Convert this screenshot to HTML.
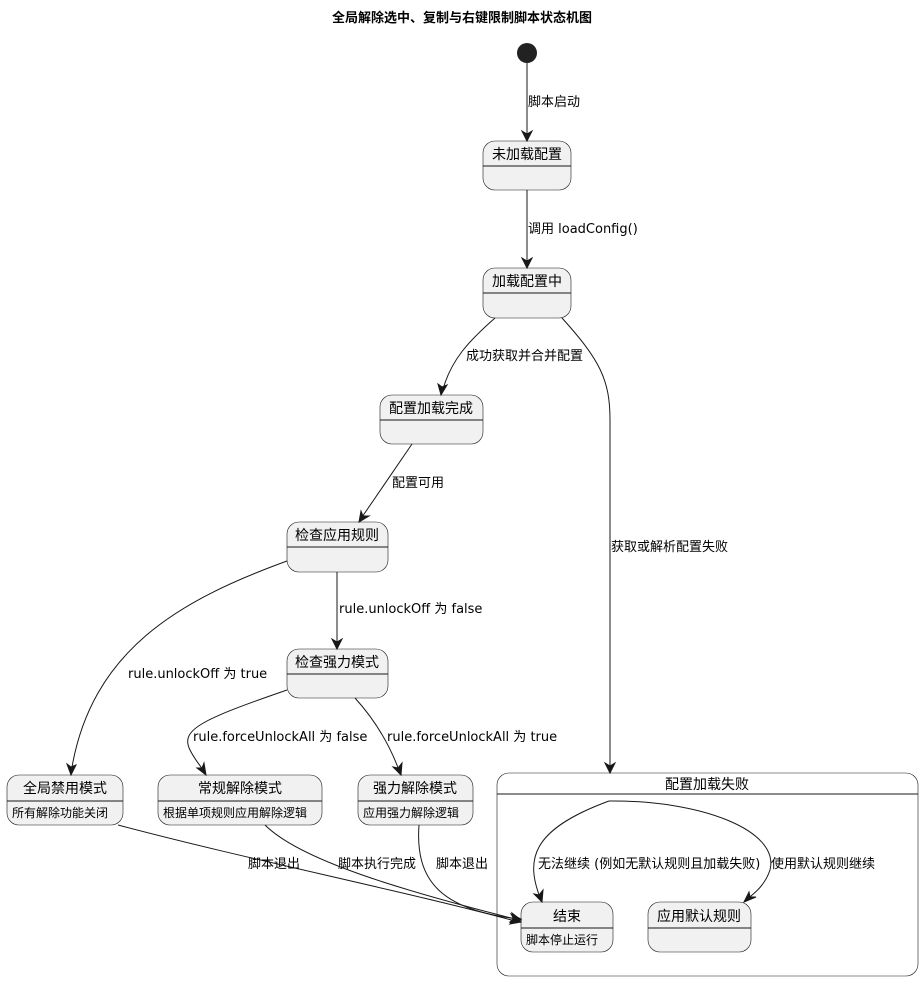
<!DOCTYPE html>
<html><head><meta charset="utf-8"><style>
body{margin:0;background:#fff}
svg{display:block}
text{font-family:"DejaVu Sans","Noto Sans CJK SC",sans-serif;fill:#000}
.s{fill:#F1F1F1;stroke:#181818;stroke-width:0.6}
.l{stroke:#181818;stroke-width:1;fill:none}
.a{fill:#181818;stroke:#181818}
</style></head><body>
<svg width="924" height="981" viewBox="0 0 924 981" xmlns="http://www.w3.org/2000/svg">
<text x="462" y="22" text-anchor="middle" font-size="13" font-weight="bold">全局解除选中、复制与右键限制脚本状态机图</text>
<circle cx="527" cy="53" r="10" fill="#222"/>

<g font-size="14" text-anchor="middle">
<rect class="s" x="483" y="141" width="88" height="49" rx="12"/><line class="l" x1="483" y1="166" x2="571" y2="166" stroke-width="0.6"/><text x="527" y="159">未加载配置</text>
<rect class="s" x="483" y="268" width="88" height="50" rx="12"/><line class="l" x1="483" y1="293" x2="571" y2="293" stroke-width="0.6"/><text x="527" y="286">加载配置中</text>
<rect class="s" x="380" y="395" width="103" height="49" rx="12"/><line class="l" x1="380" y1="420" x2="483" y2="420" stroke-width="0.6"/><text x="431" y="413">配置加载完成</text>
<rect class="s" x="287" y="522" width="101" height="50" rx="12"/><line class="l" x1="287" y1="547" x2="388" y2="547" stroke-width="0.6"/><text x="337" y="540">检查应用规则</text>
<rect class="s" x="287" y="649" width="101" height="49" rx="12"/><line class="l" x1="287" y1="674" x2="388" y2="674" stroke-width="0.6"/><text x="337" y="667">检查强力模式</text>
<rect class="s" x="7" y="775" width="116" height="50" rx="12"/><line class="l" x1="7" y1="801" x2="123" y2="801" stroke-width="0.6"/><text x="65" y="793">全局禁用模式</text>
<rect class="s" x="158" y="775" width="164" height="50" rx="12"/><line class="l" x1="158" y1="801" x2="322" y2="801" stroke-width="0.6"/><text x="240" y="793">常规解除模式</text>
<rect class="s" x="358" y="775" width="115" height="50" rx="12"/><line class="l" x1="358" y1="801" x2="473" y2="801" stroke-width="0.6"/><text x="415" y="793">强力解除模式</text>
<rect x="497" y="773" width="421" height="203" rx="12" fill="#fff" stroke="#181818" stroke-width="0.6"/><line class="l" x1="497" y1="794" x2="918" y2="794" stroke-width="0.6"/><text x="707" y="789">配置加载失败</text>
<rect class="s" x="521" y="902" width="92" height="50" rx="12"/><line class="l" x1="521" y1="928" x2="613" y2="928" stroke-width="0.6"/><text x="567" y="921">结束</text>
<rect class="s" x="648" y="902" width="103" height="50" rx="12"/><line class="l" x1="648" y1="928" x2="751" y2="928" stroke-width="0.6"/><text x="699" y="921">应用默认规则</text>
</g>
<g font-size="12">
<text x="12" y="817">所有解除功能关闭</text>
<text x="163" y="817">根据单项规则应用解除逻辑</text>
<text x="363" y="817">应用强力解除逻辑</text>
<text x="526" y="944">脚本停止运行</text>
</g>

<g>
<path class="l" d="M527 63 L527 139"/><polygon class="a" points="527,141 522,131 527,134 532,131"/>
<path class="l" d="M527 190 L527 266"/><polygon class="a" points="527,268 522,258 527,261 532,258"/>
<path class="l" d="M495 318 C470 340 450 360 442 393"/><polygon class="a" points="441,395 438,384 442,387 447,385"/>
<path class="l" d="M562 318 C600 360 610 380 610 420 L610 771"/><polygon class="a" points="610,773 605,763 610,766 615,763"/>
<path class="l" d="M412 444 L360 520"/><polygon class="a" points="359,522 361,511 363,516 369,516"/>
<path class="l" d="M337 572 L337 647"/><polygon class="a" points="337,649 332,639 337,642 342,639"/>
<path class="l" d="M287 561 C180 600 90 650 71 773"/><polygon class="a" points="71,775 67,764 71,767 76,765"/>
<path class="l" d="M287 690 C200 720 180 730 190 750 C195 760 200 765 205 773"/><polygon class="a" points="206,775 197,768 202,768 204,763"/>
<path class="l" d="M355 698 C375 720 390 745 400 773"/><polygon class="a" points="401,775 393,767 398,768 402,763"/>
<path class="l" d="M118 825 C250 860 400 890 519 922"/><polygon class="a" points="521,922 510,924 514,920 512,915"/>
<path class="l" d="M265 825 C300 860 400 890 519 920"/><polygon class="a" points="521,920 510,922 514,918 512,913"/>
<path class="l" d="M419 825 C415 880 440 910 519 919"/><polygon class="a" points="521,919 510,923 514,919 511,914"/>
<path class="l" d="M609 801 C530 830 525 860 541 900"/><polygon class="a" points="542,902 534,894 539,895 543,890"/>
<path class="l" d="M609 801 C700 800 780 830 770 870 C765 885 755 893 746 900"/><polygon class="a" points="744,902 749,892 750,897 756,897"/>
</g>
<g font-size="13">
<text x="528" y="106">脚本启动</text>
<text x="528" y="233">调用 loadConfig()</text>
<text x="466" y="360">成功获取并合并配置</text>
<text x="392" y="487">配置可用</text>
<text x="611" y="551">获取或解析配置失败</text>
<text x="339" y="613">rule.unlockOff 为 false</text>
<text x="128" y="678">rule.unlockOff 为 true</text>
<text x="193" y="741">rule.forceUnlockAll 为 false</text>
<text x="387" y="741">rule.forceUnlockAll 为 true</text>
<text x="248" y="868">脚本退出</text>
<text x="338" y="868">脚本执行完成</text>
<text x="436" y="868">脚本退出</text>
<text x="538" y="868">无法继续 (例如无默认规则且加载失败)</text>
<text x="771" y="868">使用默认规则继续</text>
</g>
</svg>
</body></html>
